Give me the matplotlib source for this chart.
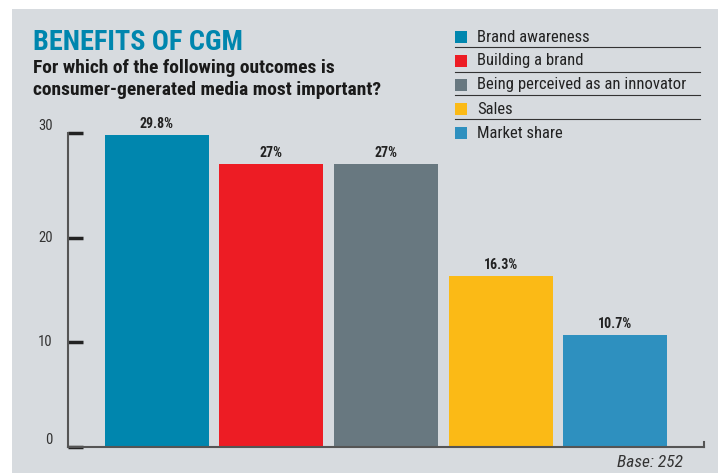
import matplotlib.pyplot as plt
from matplotlib.patches import Rectangle
from matplotlib.lines import Line2D

outcomes = ['Brand awareness', 'Building a brand', 'Being perceived as an innovator',
            'Sales', 'Market share']
shares = [29.8, 27, 27, 16.3, 10.7]
value_labels = ['29.8%', '27%', '27%', '16.3%', '10.7%']
colors = ['#0086ae', '#ed1c24', '#687880', '#fbba16', '#2e90bf']
yticks = [0, 10, 20, 30]

plt.rcParams['font.family'] = ['Roboto Condensed', 'DejaVu Sans']

W, H = 724, 473
fig = plt.figure(figsize=(W / 100, H / 100), dpi=100)
fig.patch.set_facecolor('white')
bg = '#d7dbdf'
fig.add_artist(Rectangle((12 / W, 0), 706 / W, 1 - 9 / H, transform=fig.transFigure,
                         facecolor=bg, edgecolor='none', zorder=0))

ax = fig.add_axes([68 / W, 26 / H, 636 / W, 314 / H])
ax.set_facecolor('none')
x = range(len(shares))
ax.bar(x, shares, width=0.908, color=colors, zorder=2)
for i, v in enumerate(shares):
    ax.text(i, v + 0.4, value_labels[i], ha='center', va='bottom', fontsize=10,
            fontweight='bold', color='#222222')
ax.set_xlim(-0.777, 4.777)
ax.set_ylim(0, 30)
ax.set_xticks([])
ax.set_yticks(yticks)
ax.set_yticklabels([str(t) for t in yticks], fontsize=10.5, color='#333333')
ax.tick_params(axis='y', direction='in', length=11, width=2.5, color='#222222', pad=11)
for lbl, dy in zip(ax.get_yticklabels(), [8, 1, 1, 8]):
    lbl.set_y(lbl.get_position()[1])
    lbl.set_va('bottom' if dy > 4 else 'center')
for s in ['top', 'right']:
    ax.spines[s].set_visible(False)
for s in ['left', 'bottom']:
    ax.spines[s].set_color('#555555')
    ax.spines[s].set_linewidth(1.5)
ax.add_line(Line2D([4.777, 4.777], [0, 0.5], color='#555555', lw=1.5, clip_on=False))

fig.text(33 / W, 1 - 43 / H, 'BENEFITS OF CGM', color='#0086ae', fontsize=20.3,
         fontweight='bold', va='center', ha='left')
fig.text(33 / W, 1 - 68 / H, 'For which of the following outcomes is', fontsize=14,
         fontweight='bold', va='center', ha='left', color='#1a1a1a')
fig.text(33 / W, 1 - 90 / H, 'consumer-generated media most important?', fontsize=14,
         fontweight='bold', va='center', ha='left', color='#1a1a1a')

for i, (name, c) in enumerate(zip(outcomes, colors)):
    yc = 37 + i * 24
    fig.add_artist(Rectangle((455 / W, 1 - (yc + 6) / H), 12 / W, 12 / H,
                             transform=fig.transFigure, facecolor=c, edgecolor='none'))
    fig.text(477 / W, 1 - yc / H, name, fontsize=12, va='center', ha='left', color='#222222')
    if i < len(outcomes) - 1:
        fig.add_artist(Line2D([455 / W, 700 / W], [1 - (yc + 10.5) / H] * 2,
                              transform=fig.transFigure, color='#333333', lw=0.8))

fig.text(683 / W, 1 - 462 / H, 'Base: 252', fontsize=12.5, style='italic', ha='right',
         va='center', color='#333333')

fig.savefig('out.png', dpi=100, facecolor=fig.get_facecolor())
